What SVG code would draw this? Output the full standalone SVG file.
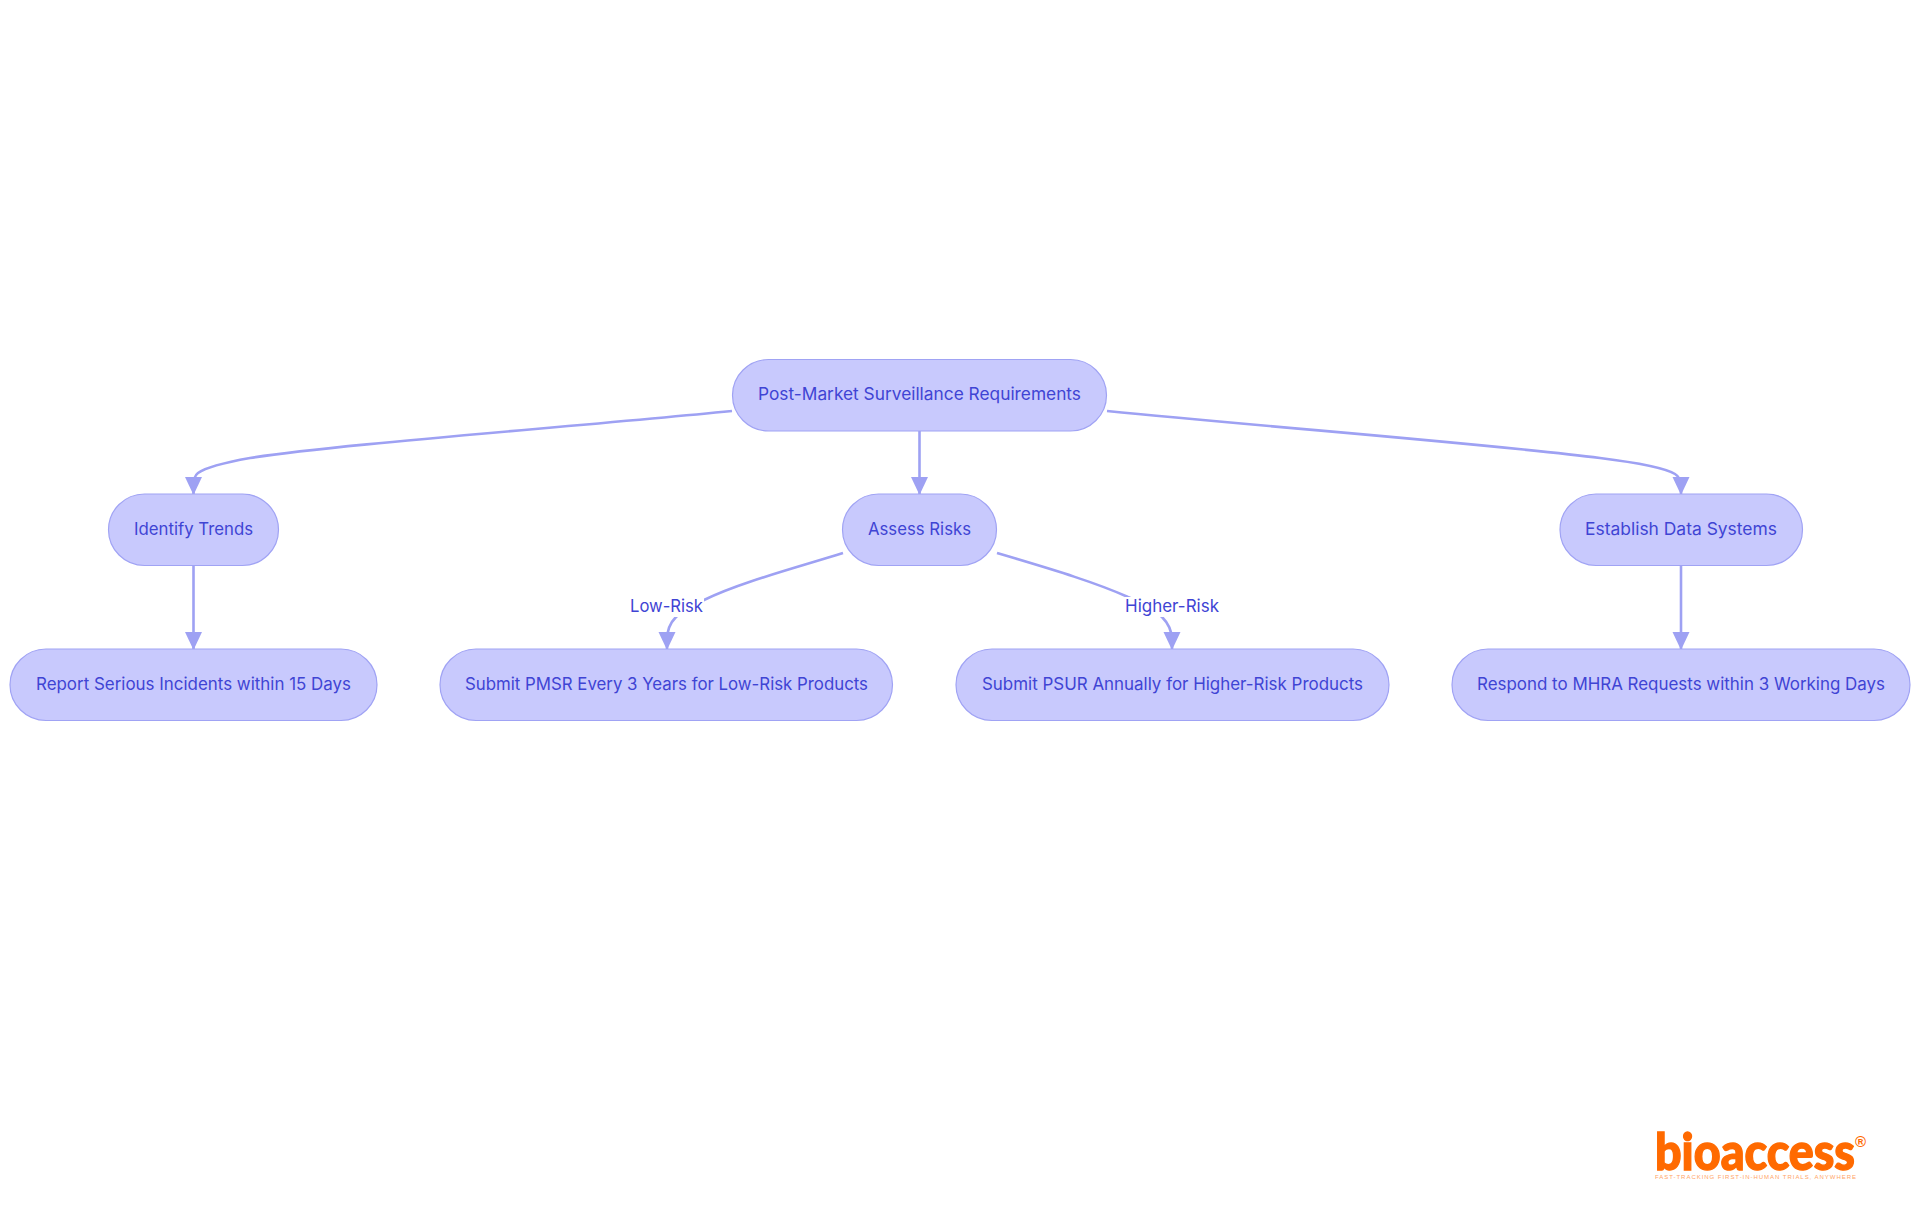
<svg xmlns="http://www.w3.org/2000/svg" width="1920" height="1215" viewBox="0 0 1920 1215">
<style>
.n{fill:#c8c9fd;stroke:#a0a3f4;stroke-width:1.2}
.t{font-family:Inter,"Noto Sans","Liberation Sans",sans-serif;font-size:17px;fill:#3f44d4;text-anchor:middle}
.e{fill:none;stroke:#9ea1f3;stroke-width:2.6}
.b{fill:#fff}
</style>
<defs><marker id="a" markerUnits="userSpaceOnUse" markerWidth="18" markerHeight="19" refX="17" refY="9" orient="auto"><path d="M0 0.500L18 9L0 17.500Z" fill="#9ea1f3"/></marker></defs>
<rect width="1920" height="1215" fill="#fff"/>
<g id="connectors">
<path class="e" marker-end="url(#a)" d="M732 411C560 428 330 445 250 458C222 463 205 468 198 473C194 476 193.500 480 193.500 486V494"/>
<path class="e" marker-end="url(#a)" d="M919.500 431V494"/>
<path class="e" marker-end="url(#a)" d="M1107 411C1280 428 1500 445 1600 458C1640 463 1665 468 1675 474C1680 477 1681 481 1681 486V494"/>
<path class="e" marker-end="url(#a)" d="M193.500 565V649"/>
<path class="e" marker-end="url(#a)" d="M843 553C795 568 738 583 704 600C692 606 683 610 676 617C671 622 667 630 667 640V649"/>
<path class="e" marker-end="url(#a)" d="M997 553C1040 566 1090 580 1128 597C1145 604 1155 610 1162 617C1168 623 1172 632 1172 640V649"/>
<path class="e" marker-end="url(#a)" d="M1681 565V649"/>
</g>
<g id="root"><rect class="n" x="732.500" y="359.500" width="374" height="71.500" rx="36"/><text class="t" x="919.500" y="399.500" textLength="323" lengthAdjust="spacingAndGlyphs">Post-Market Surveillance Requirements</text></g>
<g id="identify"><rect class="n" x="108.500" y="494" width="170" height="71.500" rx="36"/><text class="t" x="193.500" y="534.500" textLength="119" lengthAdjust="spacingAndGlyphs">Identify Trends</text></g>
<g id="assess"><rect class="n" x="842.500" y="494" width="154" height="71.500" rx="36"/><text class="t" x="919.500" y="534.500" textLength="103" lengthAdjust="spacingAndGlyphs">Assess Risks</text></g>
<g id="establish"><rect class="n" x="1560" y="494" width="242.500" height="71.500" rx="36"/><text class="t" x="1681" y="534.500" textLength="192" lengthAdjust="spacingAndGlyphs">Establish Data Systems</text></g>
<g id="report"><rect class="n" x="10" y="649" width="367" height="71.500" rx="36"/><text class="t" x="193.500" y="689.500" textLength="315" lengthAdjust="spacingAndGlyphs">Report Serious Incidents within 15 Days</text></g>
<g id="pmsr"><rect class="n" x="440" y="649" width="452.500" height="71.500" rx="36"/><text class="t" x="666.500" y="689.500" textLength="403" lengthAdjust="spacingAndGlyphs">Submit PMSR Every 3 Years for Low-Risk Products</text></g>
<g id="psur"><rect class="n" x="956" y="649" width="433" height="71.500" rx="36"/><text class="t" x="1172.500" y="689.500" textLength="381" lengthAdjust="spacingAndGlyphs">Submit PSUR Annually for Higher-Risk Products</text></g>
<g id="respond"><rect class="n" x="1452" y="649" width="458" height="71.500" rx="36"/><text class="t" x="1681" y="689.500" textLength="408" lengthAdjust="spacingAndGlyphs">Respond to MHRA Requests within 3 Working Days</text></g>
<g id="labels">
<rect class="b" x="629" y="597" width="75" height="20"/><text class="t" x="666.500" y="612" textLength="73" lengthAdjust="spacingAndGlyphs">Low-Risk</text>
<rect class="b" x="1125" y="597" width="95" height="20"/><text class="t" x="1172" y="612" textLength="94" lengthAdjust="spacingAndGlyphs">Higher-Risk</text></g>
<g id="logo"><text x="1655" y="1170" font-family="Lato,'Liberation Sans',sans-serif" font-size="52" font-weight="900" fill="#ff6a00" stroke="#ff6a00" stroke-width="1.4" textLength="200" lengthAdjust="spacingAndGlyphs">bioaccess</text>
<text x="1855" y="1147" font-family="'Liberation Sans',sans-serif" font-size="15" font-weight="700" fill="#ff6a00">®</text>
<text x="1655" y="1179" font-family="'Liberation Sans',sans-serif" font-size="6" fill="#ffa566" textLength="201">FAST-TRACKING FIRST-IN-HUMAN TRIALS, ANYWHERE</text></g>
</svg>
